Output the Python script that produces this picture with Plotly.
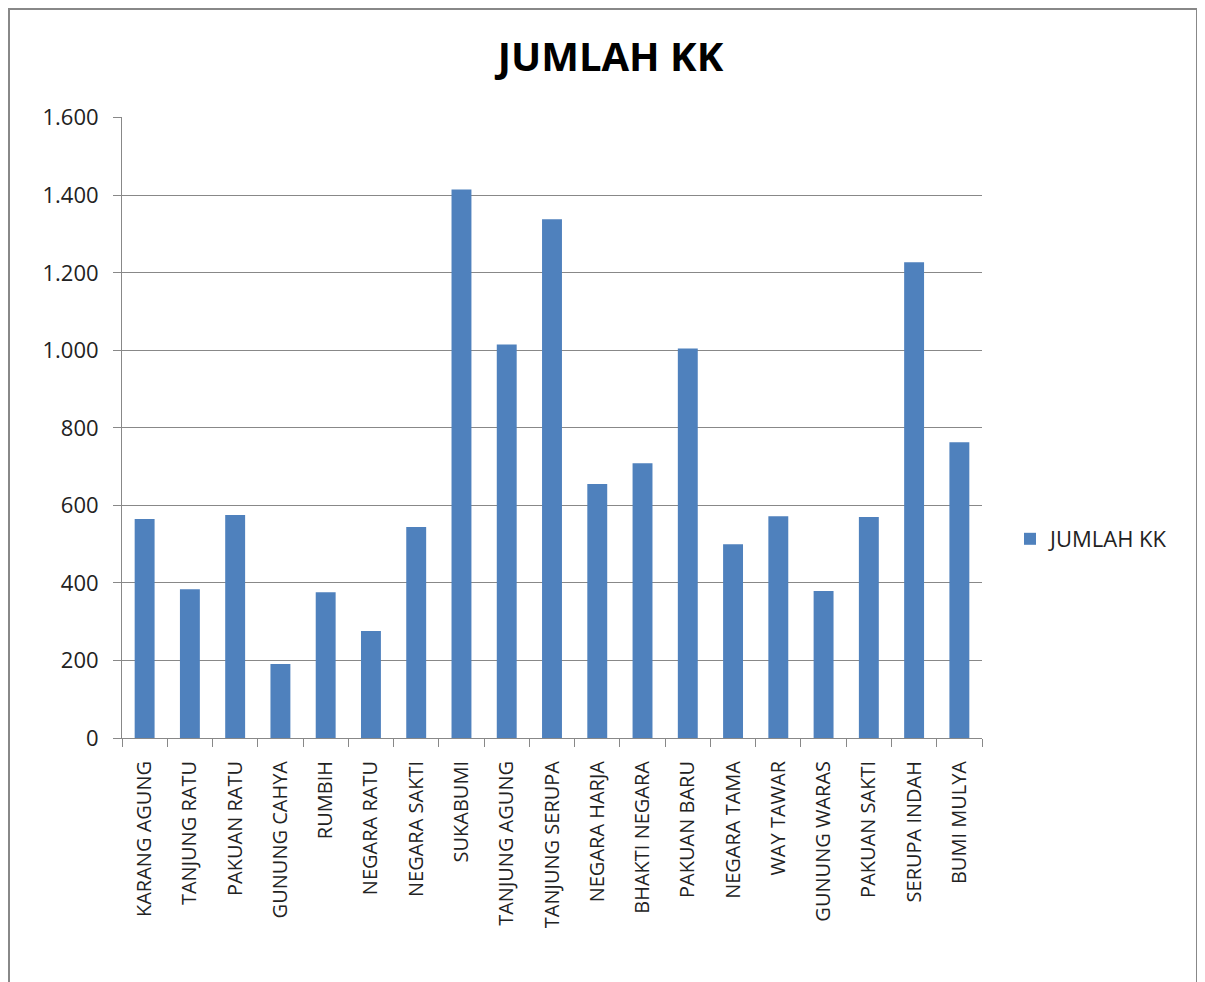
import plotly.graph_objects as go

categories = ["KARANG AGUNG", "TANJUNG RATU", "PAKUAN RATU", "GUNUNG CAHYA", "RUMBIH",
              "NEGARA RATU", "NEGARA SAKTI", "SUKABUMI", "TANJUNG AGUNG", "TANJUNG SERUPA",
              "NEGARA HARJA", "BHAKTI NEGARA", "PAKUAN BARU", "NEGARA TAMA", "WAY TAWAR",
              "GUNUNG WARAS", "PAKUAN SAKTI", "SERUPA INDAH", "BUMI MULYA"]
jumlah_kk = [565, 384, 575, 191, 376, 276, 544, 1415, 1015, 1338,
             655, 709, 1005, 500, 572, 379, 570, 1227, 763]
y_ticks = [0, 200, 400, 600, 800, 1000, 1200, 1400, 1600]

W, H = 1205, 982
OFF = 8  # page body margin
L, R, T, B = 122 - OFF, 982 - OFF, 117 - OFF, 738 - OFF
PW, PH = R - L, B - T

fig = go.Figure()
fig.add_trace(go.Bar(x=categories, y=jumlah_kk, name="JUMLAH KK",
                     marker=dict(color="#4F81BD", line=dict(width=0))))

font_family = "Open Sans, Liberation Sans, sans-serif"
fig.update_layout(
    width=W, height=H,
    margin=dict(l=L, r=W - R, t=T, b=H - B, autoexpand=False),
    paper_bgcolor="white", plot_bgcolor="white",
    separators=",.",
    title=dict(text="<b>JUMLAH KK</b>", x=0.5, xanchor="center",
               y=1 - (57 - OFF) / H, yanchor="middle",
               font=dict(family=font_family, size=40, color="black")),
    font=dict(family=font_family, size=20, color="#222"),
    bargap=0.56,
    showlegend=True,
    legend=dict(x=(1010 - OFF - L) / PW, y=(B - (539 - OFF)) / PH,
                xanchor="left", yanchor="middle",
                font=dict(size=22, color="#222"), itemwidth=30, bgcolor="rgba(0,0,0,0)"),
    xaxis=dict(tickangle=-90, showline=True, linecolor="#888", linewidth=1,
               ticks="outside", tickson="boundaries", ticklen=8, tickcolor="#888",
               showgrid=False, ticklabelstandoff=14,
               tickfont=dict(size=20, color="#222")),
    yaxis=dict(range=[0, 1602], tickvals=y_ticks, tickformat=",d", showline=True,
               linecolor="#888", linewidth=1, ticks="outside", ticklen=8, tickcolor="#888",
               showgrid=True, gridcolor="#888", gridwidth=1, zeroline=False,
               ticklabelstandoff=10,
               tickfont=dict(size=22, color="#222")),
)

# outer chart border
fig.add_shape(type="rect", xref="paper", yref="paper",
              x0=(1 - L) / PW, x1=(1197 - OFF - L) / PW,
              y0=(B - 1000) / PH, y1=(B - 1) / PH,
              line=dict(color="#888", width=2), fillcolor="rgba(0,0,0,0)", layer="below")

fig.write_html("out.html")
